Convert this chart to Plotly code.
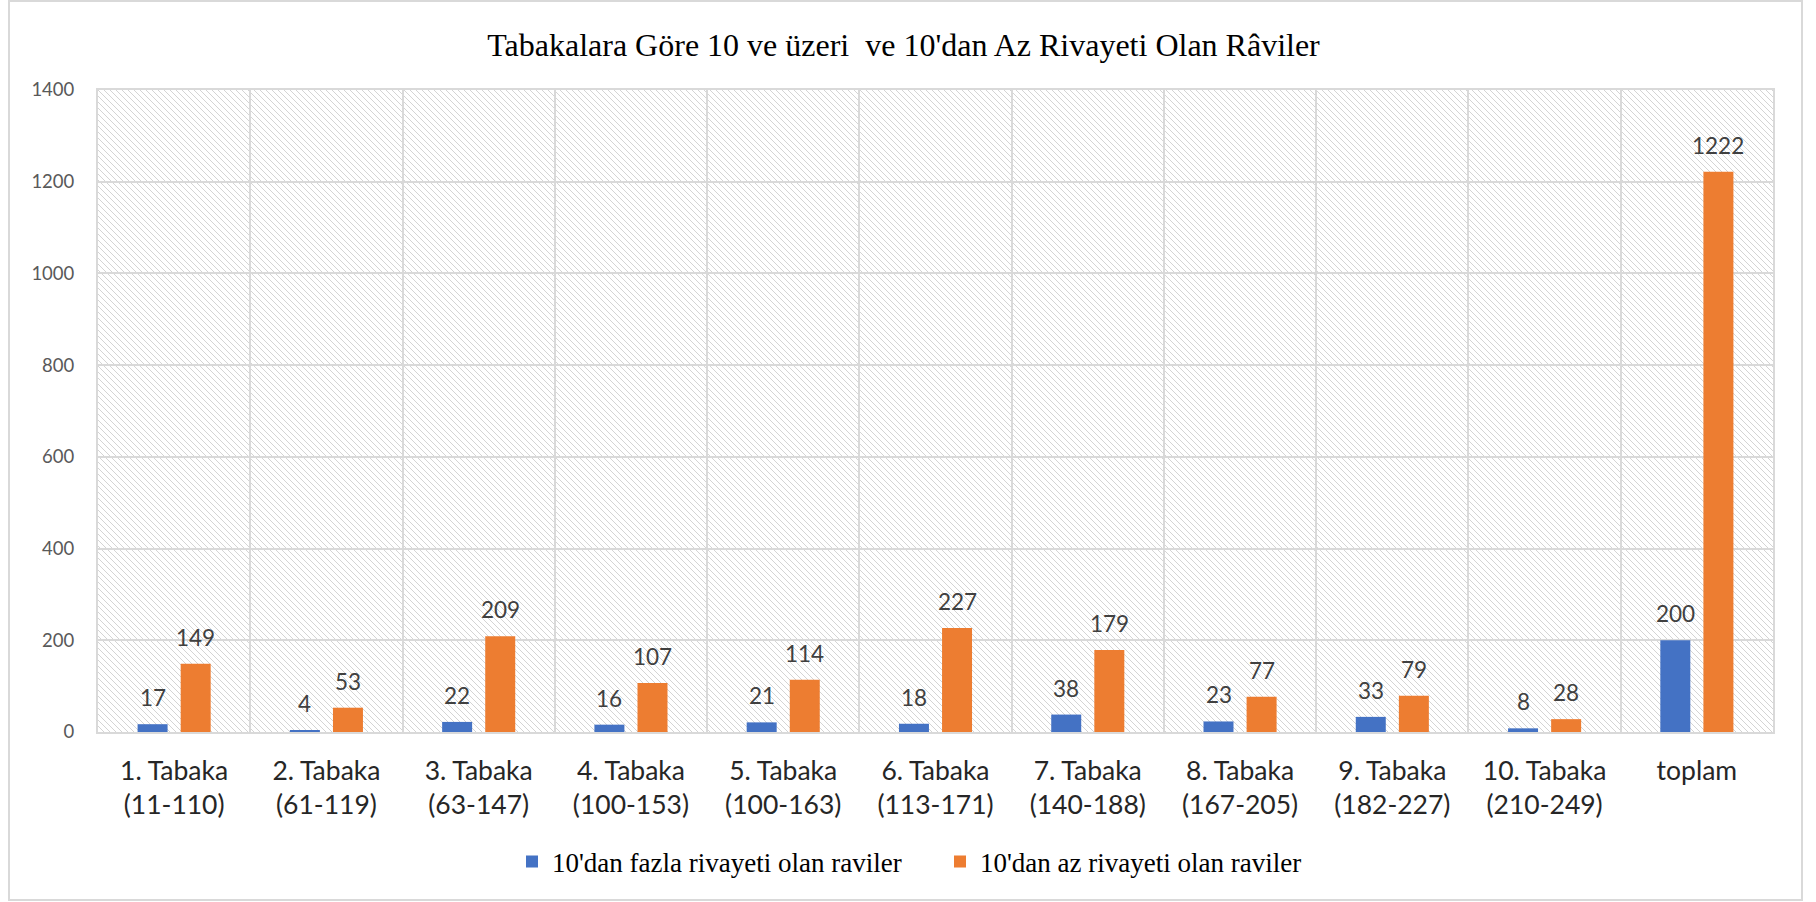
import base64
import plotly.graph_objects as go

# Category labels (two-line tick labels) and series values
categories = [
    "1. Tabaka<br>(11-110)", "2. Tabaka<br>(61-119)", "3. Tabaka<br>(63-147)",
    "4. Tabaka<br>(100-153)", "5. Tabaka<br>(100-163)", "6. Tabaka<br>(113-171)",
    "7. Tabaka<br>(140-188)", "8. Tabaka<br>(167-205)", "9. Tabaka<br>(182-227)",
    "10. Tabaka<br>(210-249)", "toplam",
]
more_than_10 = [17, 4, 22, 16, 21, 18, 38, 23, 33, 8, 200]
less_than_10 = [149, 53, 209, 107, 114, 227, 179, 77, 79, 28, 1222]
series_names = ["10'dan fazla rivayeti olan raviler", "10'dan az rivayeti olan raviler"]
y_ticks = [0, 200, 400, 600, 800, 1000, 1200, 1400]

BLUE = "#4472C4"
ORANGE = "#ED7D31"
GRID = "#D9D9D9"
W, H = 1816, 902
ML, MR, MT, MB = 98, 43, 90, 170
PW, PH = W - ML - MR, H - MT - MB

fig = go.Figure()
fig.add_trace(go.Bar(x=categories, y=more_than_10, name=series_names[0],
                     marker=dict(color=BLUE, line=dict(width=0))))
fig.add_trace(go.Bar(x=categories, y=less_than_10, name=series_names[1],
                     marker=dict(color=ORANGE, line=dict(width=0))))

# Value labels above each bar
group_offset = 21.5
for vals, shift in ((more_than_10, -group_offset), (less_than_10, group_offset)):
    for cat, v in zip(categories, vals):
        fig.add_annotation(x=cat, y=v, text=str(v), showarrow=False,
                           xshift=shift, yanchor="bottom", yshift=11,
                           font=dict(family="Lato", size=22.5, color="#404040"))

# Light diagonal hatch behind the plotting area
hatch_svg = f"""<svg xmlns='http://www.w3.org/2000/svg' width='{PW}' height='{PH}'>
<defs><pattern id='h' patternUnits='userSpaceOnUse' width='6' height='6'>
<path d='M0,0 L6,6 M-1,5 L1,7 M5,-1 L7,1' stroke='#D4D4D4' stroke-width='1'/>
</pattern></defs>
<rect width='{PW}' height='{PH}' fill='white'/>
<rect width='{PW}' height='{PH}' fill='url(#h)'/>
</svg>"""
hatch_uri = "data:image/svg+xml;base64," + base64.b64encode(hatch_svg.encode()).decode()
fig.add_layout_image(source=hatch_uri, xref="paper", yref="paper", x=0, y=1,
                     sizex=1, sizey=1, sizing="stretch", xanchor="left",
                     yanchor="top", layer="below")

# Outer chart border
fig.add_shape(type="rect", xref="paper", yref="paper",
              x0=(9 - ML) / PW, x1=(1802 - ML) / PW,
              y0=(MT + PH - 900) / PH, y1=(MT + PH - 1) / PH,
              line=dict(color=GRID, width=2), fillcolor="rgba(0,0,0,0)", layer="below")

fig.update_layout(
    width=W, height=H,
    margin=dict(l=ML, r=MR, t=MT, b=MB),
    paper_bgcolor="white", plot_bgcolor="rgba(0,0,0,0)",
    barmode="group", bargap=0.434, bargroupgap=0.304,
    title=dict(text="Tabakalara Göre 10 ve üzeri  ve 10'dan Az Rivayeti Olan Râviler",
               x=903.5 / W, xref="container", xanchor="center",
               y=1 - 45 / H, yref="container", yanchor="middle",
               font=dict(family="Liberation Serif", size=32, color="#000000")),
    legend=dict(orientation="h", x=(512 - ML) / PW, xanchor="left",
                y=(MT + PH - 862) / PH, yanchor="middle",
                font=dict(family="Liberation Serif", size=27, color="#000000"),
                bgcolor="rgba(0,0,0,0)", entrywidth=383, itemwidth=30),
    xaxis=dict(tickson="boundaries", showgrid=True, gridcolor=GRID, gridwidth=2,
               showline=True, linecolor=GRID, linewidth=2, mirror=True,
               ticks="", tickfont=dict(family="Lato", size=26.5, color="#262626"),
               ticklabelstandoff=14),
    yaxis=dict(range=[0, 1400], tickvals=y_ticks, showgrid=True, gridcolor=GRID,
               gridwidth=2, showline=True, linecolor=GRID, linewidth=2, mirror=True,
               zeroline=False, ticks="",
               tickfont=dict(family="Lato", size=18.5, color="#595959"),
               ticklabelstandoff=18),
    showlegend=True,
)

fig.write_html("out.html")
